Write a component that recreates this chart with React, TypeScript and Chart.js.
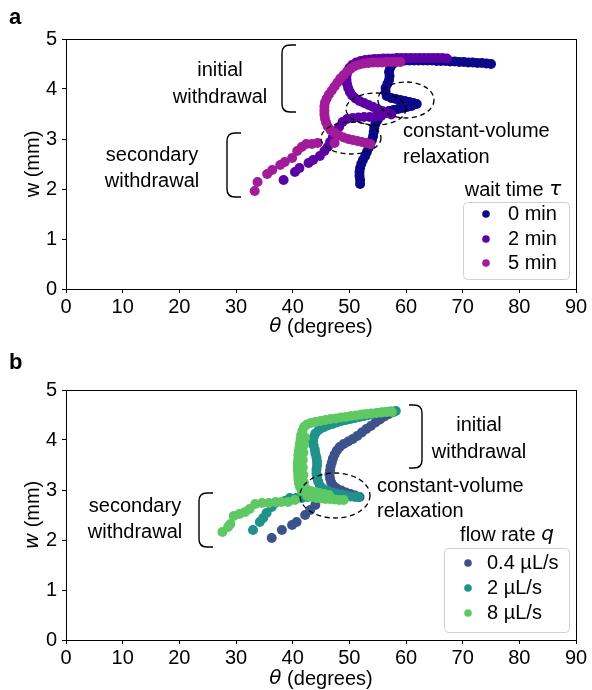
import React, { useEffect, useRef } from "react";
import { Chart, registerables } from "chart.js";
Chart.register(...registerables);

type P = [number, number];

// ---------- axis ticks ----------
const thetaTicks = [0, 10, 20, 30, 40, 50, 60, 70, 80, 90];
const wTicks = [0, 1, 2, 3, 4, 5];

// ---------- panel a: wait time ----------
const waitLabels = ["0 min", "2 min", "5 min"];
const waitColors = ["#0d0887", "#5c02a4", "#a11b9b"];

const wait0: P[] = [
  [75.0, 4.5], [74.2, 4.51], [73.4, 4.52], [72.6, 4.52], [71.8, 4.53], [71.0, 4.53], [70.2, 4.54],
  [69.4, 4.54], [68.6, 4.55], [67.8, 4.55], [67.0, 4.56], [66.2, 4.56], [65.4, 4.56], [64.6, 4.57],
  [63.8, 4.57], [63.0, 4.57], [62.2, 4.57], [61.4, 4.57], [60.6, 4.57], [59.8, 4.57], [59.0, 4.56],
  [58.2, 4.54], [57.6, 4.49], [57.2, 4.42], [57.0, 4.34], [57.1, 4.26], [57.0, 4.18], [56.7, 4.1],
  [56.4, 4.02], [56.4, 3.94], [56.6, 3.86], [57.4, 3.82], [58.2, 3.8], [59.0, 3.78], [59.8, 3.76],
  [60.6, 3.74], [61.3, 3.72], [61.9, 3.7], [61.0, 3.66], [60.2, 3.64], [59.4, 3.62], [58.6, 3.6],
  [57.8, 3.58], [57.0, 3.56], [56.2, 3.52], [55.5, 3.46], [55.0, 3.38], [54.6, 3.3], [54.4, 3.22],
  [54.3, 3.14], [54.2, 3.06], [54.0, 2.98], [53.7, 2.9], [53.4, 2.82], [53.1, 2.74], [52.8, 2.66],
  [52.4, 2.58], [52.1, 2.5], [51.9, 2.42], [51.8, 2.34], [51.8, 2.26], [51.9, 2.18], [51.9, 2.1],
];

const wait2: P[] = [
  [67.2, 4.61], [66.4, 4.62], [65.6, 4.62], [64.8, 4.62], [64.0, 4.62], [63.2, 4.62], [62.4, 4.62],
  [61.6, 4.62], [60.8, 4.62], [60.0, 4.62], [59.2, 4.62], [58.4, 4.62], [57.6, 4.61], [56.8, 4.61],
  [56.0, 4.61], [55.2, 4.6], [54.4, 4.6], [53.6, 4.59], [52.8, 4.58], [52.0, 4.56], [51.2, 4.53],
  [50.5, 4.48], [50.0, 4.42], [49.7, 4.34], [49.5, 4.26], [49.5, 4.18], [49.6, 4.1], [49.8, 4.02],
  [50.1, 3.94], [50.5, 3.87], [51.1, 3.81], [51.8, 3.76], [52.6, 3.72], [53.4, 3.68], [54.2, 3.64],
  [55.0, 3.6], [55.8, 3.56], [56.6, 3.52], [57.4, 3.49], [55.6, 3.46], [54.6, 3.45], [53.6, 3.44],
  [52.6, 3.44], [51.6, 3.43], [50.6, 3.42], [49.6, 3.4], [48.8, 3.34], [48.2, 3.24], [47.6, 3.14],
  [47.1, 3.04], [46.6, 2.94], [46.2, 2.84], [45.6, 2.76], [44.8, 2.66], [43.6, 2.58], [42.8, 2.52],
  [41.2, 2.42], [40.4, 2.34], [38.4, 2.18],
];

const wait5: P[] = [
  [59.0, 4.54], [58.2, 4.54], [57.4, 4.54], [56.6, 4.54], [55.8, 4.53], [55.0, 4.53], [54.2, 4.53],
  [53.4, 4.52], [52.6, 4.51], [51.8, 4.49], [51.0, 4.46], [50.3, 4.41], [49.6, 4.35], [49.0, 4.28],
  [48.4, 4.21], [47.9, 4.13], [47.4, 4.05], [46.9, 3.97], [46.4, 3.89], [46.0, 3.81], [45.7, 3.73],
  [45.6, 3.65], [45.6, 3.57], [45.6, 3.49], [45.7, 3.41], [45.9, 3.33], [46.2, 3.25], [46.7, 3.18],
  [47.4, 3.12], [48.2, 3.07], [49.0, 3.03], [49.8, 3.0], [50.6, 2.98], [51.4, 2.96], [52.2, 2.94],
  [53.0, 2.92], [53.7, 2.9], [47.4, 2.92], [44.4, 2.92], [43.4, 2.9], [42.4, 2.9], [41.6, 2.84],
  [40.8, 2.76], [39.9, 2.62], [38.6, 2.54], [37.8, 2.48], [36.4, 2.38], [35.5, 2.3], [33.8, 2.14],
  [33.3, 1.96],
];

// ---------- panel b: flow rate ----------
const flowLabels = ["0.4 µL/s", "2 µL/s", "8 µL/s"];
const flowColors = ["#3b528b", "#21918c", "#5ec962"];

const flow04: P[] = [
  [57.8, 4.56], [57.0, 4.52], [56.2, 4.47], [55.4, 4.41], [54.6, 4.35], [53.8, 4.28], [53.0, 4.22],
  [52.2, 4.15], [51.4, 4.08], [50.6, 4.02], [49.8, 3.97], [49.0, 3.92], [48.3, 3.86], [47.8, 3.79],
  [47.4, 3.71], [47.1, 3.63], [46.9, 3.55], [46.7, 3.47], [46.6, 3.39], [46.5, 3.31], [46.6, 3.23],
  [46.8, 3.15], [47.2, 3.08], [47.8, 3.03], [48.6, 2.99], [49.4, 2.95], [50.2, 2.92], [51.0, 2.89],
  [51.8, 2.86], [44.0, 2.7], [43.1, 2.6], [42.2, 2.5], [40.7, 2.36], [39.9, 2.3], [38.1, 2.2], [36.3, 2.04],
];

const flow2: P[] = [
  [58.2, 4.58], [57.4, 4.57], [56.6, 4.56], [55.8, 4.55], [55.0, 4.54], [54.2, 4.52], [53.4, 4.5],
  [52.6, 4.48], [51.8, 4.46], [51.0, 4.44], [50.2, 4.42], [49.4, 4.4], [48.6, 4.38], [47.8, 4.35],
  [47.0, 4.32], [46.2, 4.29], [45.4, 4.25], [44.6, 4.2], [44.0, 4.13], [43.7, 4.05], [43.6, 3.97],
  [43.7, 3.89], [43.9, 3.81], [44.0, 3.73], [44.2, 3.65], [44.3, 3.57], [44.3, 3.49], [44.2, 3.41],
  [44.2, 3.33], [44.3, 3.25], [44.5, 3.17], [44.8, 3.09], [45.4, 3.02], [46.2, 2.98], [47.0, 2.95],
  [47.8, 2.93], [48.6, 2.91], [49.4, 2.89], [50.2, 2.87], [51.0, 2.86], [51.6, 2.86], [42.6, 2.86],
  [41.6, 2.84], [40.6, 2.84], [39.5, 2.84], [38.6, 2.78], [36.9, 2.74], [36.3, 2.66], [35.4, 2.54],
  [34.8, 2.44], [34.2, 2.36], [33.0, 2.2],
];

const flow8: P[] = [
  [57.5, 4.56], [56.6, 4.56], [55.7, 4.55], [54.8, 4.54], [53.9, 4.53], [53.0, 4.52], [52.1, 4.51],
  [51.2, 4.49], [50.3, 4.48], [49.4, 4.46], [48.5, 4.45], [47.6, 4.43], [46.7, 4.42], [45.8, 4.4],
  [44.9, 4.38], [44.0, 4.36], [43.2, 4.34], [42.5, 4.31], [42.0, 4.26], [41.7, 4.18], [41.5, 4.1],
  [41.4, 4.02], [41.3, 3.94], [41.2, 3.86], [41.1, 3.78], [41.0, 3.7], [41.0, 3.62], [40.9, 3.54],
  [40.9, 3.46], [40.9, 3.38], [41.0, 3.3], [41.0, 3.22], [41.1, 3.14], [41.3, 3.06], [41.6, 2.98],
  [42.2, 4.05], [42.0, 3.9], [41.9, 3.75], [41.8, 3.6], [41.8, 3.45], [41.9, 3.3], [42.0, 3.15],
  [42.4, 3.02], [43.2, 2.98], [44.0, 2.96], [44.8, 2.94], [45.6, 2.92], [46.4, 2.9], [42.6, 2.88],
  [43.4, 2.86], [44.2, 2.84], [45.0, 2.83], [45.8, 2.82], [46.6, 2.82], [47.4, 2.81], [48.2, 2.8],
  [49.0, 2.8], [40.4, 2.8], [39.2, 2.76], [38.0, 2.76], [37.0, 2.76], [35.8, 2.74], [34.6, 2.74],
  [33.4, 2.72], [32.4, 2.62], [31.6, 2.56], [30.6, 2.52], [29.6, 2.48], [29.0, 2.32], [28.6, 2.26],
  [27.6, 2.16],
];

// ---------- drawing helpers ----------
const FONT = "'Liberation Sans', Arial, sans-serif";
const MATH = "'DejaVu Sans', sans-serif";
type Part = { t: string; it?: boolean };

function drawRich(ctx: CanvasRenderingContext2D, parts: Part[], x: number, y: number, align: "center" | "left", size: number) {
  const fonts = parts.map((p) => (p.it ? `italic ${size}px ${MATH}` : `${size}px ${FONT}`));
  let total = 0;
  const widths = parts.map((p, i) => {
    ctx.font = fonts[i];
    const w = ctx.measureText(p.t).width;
    total += w;
    return w;
  });
  let cur = align === "center" ? x - total / 2 : x;
  ctx.textBaseline = "middle";
  ctx.textAlign = "left";
  ctx.fillStyle = "#000";
  parts.forEach((p, i) => {
    ctx.font = fonts[i];
    ctx.fillText(p.t, cur, y);
    cur += widths[i];
  });
}

interface PanelCfg {
  letter: string;
  padTop: number;
  xHeight: number;
  xTitleY: number;
  yTitleY: number;
  yTitle: Part[];
  texts: { t: string; x: number; y: number; align: "center" | "left" }[];
  brackets: { xv: number; xt: number; y0: number; y1: number }[];
  ellipses: [number, number, number, number][];
  legendTitle: Part[];
  legendTitlePos: [number, number];
  legendBox: [number, number, number, number];
  legendMarkerX: number;
  legendTextX: number;
  legendRows: number[];
  labels: string[];
  colors: string[];
  series: P[][];
}

const panelA: PanelCfg = {
  letter: "a",
  padTop: 39,
  xHeight: 56,
  xTitleY: 327,
  yTitleY: 164,
  yTitle: [{ t: "w (mm)" }],
  texts: [
    { t: "initial", x: 220, y: 70, align: "center" },
    { t: "withdrawal", x: 220, y: 97, align: "center" },
    { t: "secondary", x: 152, y: 155, align: "center" },
    { t: "withdrawal", x: 152, y: 181, align: "center" },
    { t: "constant-volume", x: 403, y: 131, align: "left" },
    { t: "relaxation", x: 403, y: 157, align: "left" },
  ],
  brackets: [
    { xv: 282, xt: 296, y0: 45, y1: 112 },
    { xv: 227, xt: 241, y0: 133, y1: 197 },
  ],
  ellipses: [
    [376, 109, 30, 16],
    [406, 100, 28, 18],
    [351, 138, 30, 16],
  ],
  legendTitle: [{ t: "wait time " }, { t: "τ", it: true }],
  legendTitlePos: [513, 190],
  legendBox: [463, 202, 106, 77],
  legendMarkerX: 486,
  legendTextX: 508,
  legendRows: [214, 239, 263],
  labels: waitLabels,
  colors: waitColors,
  series: [wait0, wait2, wait5],
};

const panelB: PanelCfg = {
  letter: "b",
  padTop: 45,
  xHeight: 50,
  xTitleY: 334,
  yTitleY: 170,
  yTitle: [{ t: "w", it: true }, { t: " (mm)" }],
  texts: [
    { t: "initial", x: 479, y: 80, align: "center" },
    { t: "withdrawal", x: 479, y: 107, align: "center" },
    { t: "constant-volume", x: 377, y: 141, align: "left" },
    { t: "relaxation", x: 377, y: 166, align: "left" },
    { t: "secondary", x: 135, y: 161, align: "center" },
    { t: "withdrawal", x: 135, y: 187, align: "center" },
  ],
  brackets: [
    { xv: 422, xt: 409, y0: 60, y1: 123 },
    { xv: 199, xt: 213, y0: 148, y1: 202 },
  ],
  ellipses: [[335, 150.5, 35, 22.5]],
  legendTitle: [{ t: "flow rate " }, { t: "q", it: true }],
  legendTitlePos: [507, 190],
  legendBox: [444, 203, 125, 84],
  legendMarkerX: 468,
  legendTextX: 487,
  legendRows: [218, 243, 268],
  labels: flowLabels,
  colors: flowColors,
  series: [flow04, flow2, flow8],
};

function makeChart(canvas: HTMLCanvasElement, cfg: PanelCfg) {
  const decor = {
    id: "decor",
    afterDraw(chart: any) {
      const ctx: CanvasRenderingContext2D = chart.ctx;
      const a = chart.chartArea;
      ctx.save();
      ctx.strokeStyle = "#000";
      ctx.lineWidth = 1;
      ctx.strokeRect(Math.round(a.left) + 0.5, Math.round(a.top) + 0.5, Math.round(a.right - a.left), Math.round(a.bottom - a.top));
      ctx.font = `bold 22px ${FONT}`;
      ctx.textBaseline = "middle";
      ctx.textAlign = "left";
      ctx.fillStyle = "#000";
      ctx.fillText(cfg.letter, 9, 18);
      drawRich(ctx, [{ t: "θ", it: true }, { t: " (degrees)" }], (a.left + a.right) / 2, cfg.xTitleY, "center", 20);
      ctx.save();
      ctx.translate(33, cfg.yTitleY);
      ctx.rotate(-Math.PI / 2);
      drawRich(ctx, cfg.yTitle, 0, 0, "center", 20);
      ctx.restore();
      cfg.texts.forEach((t) => drawRich(ctx, [{ t: t.t }], t.x, t.y, t.align, 20));
      ctx.strokeStyle = "#000";
      ctx.lineWidth = 1.4;
      cfg.brackets.forEach((b) => {
        const s = Math.sign(b.xt - b.xv);
        const r = 8;
        ctx.beginPath();
        ctx.moveTo(b.xt, b.y0);
        ctx.lineTo(b.xv + s * r, b.y0);
        ctx.quadraticCurveTo(b.xv, b.y0, b.xv, b.y0 + r);
        ctx.lineTo(b.xv, b.y1 - r);
        ctx.quadraticCurveTo(b.xv, b.y1, b.xv + s * r, b.y1);
        ctx.lineTo(b.xt, b.y1);
        ctx.stroke();
      });
      ctx.setLineDash([5, 3.5]);
      ctx.lineWidth = 1.3;
      cfg.ellipses.forEach(([cx, cy, rx, ry]) => {
        ctx.beginPath();
        ctx.ellipse(cx, cy, rx, ry, 0, 0, Math.PI * 2);
        ctx.stroke();
      });
      ctx.setLineDash([]);
      drawRich(ctx, cfg.legendTitle, cfg.legendTitlePos[0], cfg.legendTitlePos[1], "center", 20);
      const [bx, by, bw, bh] = cfg.legendBox;
      ctx.beginPath();
      (ctx as any).roundRect(bx + 0.5, by + 0.5, bw, bh, 4);
      ctx.fillStyle = "rgba(255,255,255,0.85)";
      ctx.fill();
      ctx.strokeStyle = "#d0d0d0";
      ctx.lineWidth = 1;
      ctx.stroke();
      cfg.labels.forEach((lab, i) => {
        ctx.beginPath();
        ctx.arc(cfg.legendMarkerX, cfg.legendRows[i], 3.8, 0, Math.PI * 2);
        ctx.fillStyle = cfg.colors[i];
        ctx.fill();
        drawRich(ctx, [{ t: lab }], cfg.legendTextX, cfg.legendRows[i], "left", 20);
      });
      ctx.restore();
    },
  };

  const tickFont = { family: FONT, size: 20 };
  return new Chart(canvas, {
    type: "scatter",
    data: {
      datasets: cfg.series.map((s, i) => ({
        label: cfg.labels[i],
        data: s.map(([x, y]) => ({ x, y })),
        backgroundColor: cfg.colors[i],
        borderColor: cfg.colors[i],
        pointRadius: 5,
        pointHoverRadius: 5,
        pointBorderWidth: 0,
        borderWidth: 0,
        order: cfg.series.length - i,
      })),
    },
    options: {
      animation: false,
      responsive: false,
      devicePixelRatio: 1,
      events: [],
      layout: { padding: { top: cfg.padTop, right: 16, left: 0, bottom: 0 } },
      plugins: { legend: { display: false }, tooltip: { enabled: false } },
      scales: {
        x: {
          type: "linear",
          min: 0,
          max: 90,
          afterBuildTicks: (s: any) => {
            s.ticks = thetaTicks.map((v) => ({ value: v }));
          },
          afterFit: (s: any) => {
            s.height = cfg.xHeight;
          },
          grid: { drawOnChartArea: false, drawTicks: true, tickLength: 4, color: "#000", tickColor: "#000", tickWidth: 1 },
          border: { display: true, color: "#000", width: 1 },
          ticks: { color: "#000", font: tickFont, padding: 2, maxRotation: 0, autoSkip: false },
        },
        y: {
          type: "linear",
          min: 0,
          max: 5,
          afterBuildTicks: (s: any) => {
            s.ticks = wTicks.map((v) => ({ value: v }));
          },
          afterFit: (s: any) => {
            s.width = 66;
          },
          grid: { drawOnChartArea: false, drawTicks: true, tickLength: 4, color: "#000", tickColor: "#000", tickWidth: 1 },
          border: { display: true, color: "#000", width: 1 },
          ticks: { color: "#000", font: tickFont, padding: 5, autoSkip: false },
        },
      },
    } as any,
    plugins: [decor],
  });
}

export default function App() {
  const refA = useRef<HTMLCanvasElement>(null);
  const refB = useRef<HTMLCanvasElement>(null);
  useEffect(() => {
    const ca = makeChart(refA.current!, panelA);
    const cb = makeChart(refB.current!, panelB);
    return () => {
      ca.destroy();
      cb.destroy();
    };
  }, []);
  return (
    <div style={{ position: "absolute", left: 0, top: 0, width: 592, height: 690, background: "#fff" }}>
      <canvas ref={refA} width={592} height={345} style={{ position: "absolute", left: 0, top: 0, width: 592, height: 345 }} />
      <canvas ref={refB} width={592} height={345} style={{ position: "absolute", left: 0, top: 345, width: 592, height: 345 }} />
    </div>
  );
}
